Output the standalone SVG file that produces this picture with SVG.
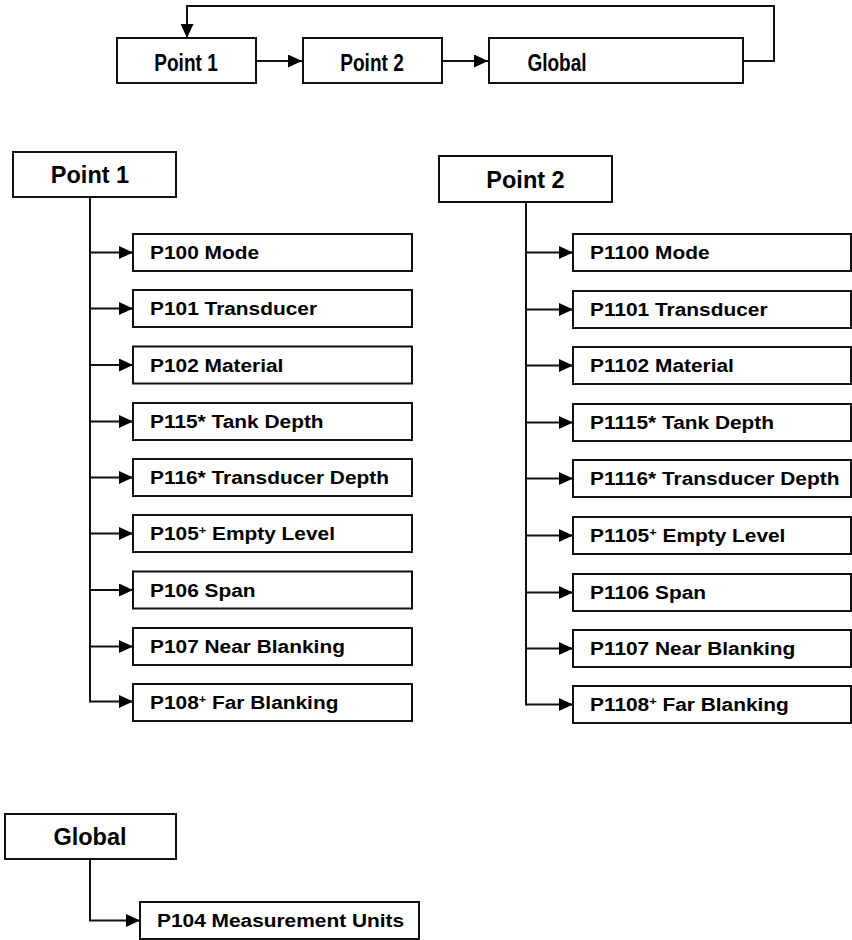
<svg xmlns="http://www.w3.org/2000/svg" width="852" height="940" viewBox="0 0 852 940">
<style>
.box{fill:#fff;stroke:#111;stroke-width:2}
.ln{fill:none;stroke:#111;stroke-width:2}
.hd{font-family:"Liberation Sans",Arial,sans-serif;font-weight:bold;font-size:23.5px;fill:#000;text-anchor:middle}
.ch{font-family:"Liberation Sans",Arial,sans-serif;font-weight:bold;font-size:18px;fill:#000}
.sp{font-size:11px}
</style>
<defs>
<marker id="ah" markerUnits="userSpaceOnUse" markerWidth="14" markerHeight="13" refX="14" refY="6.5" orient="auto">
<path d="M0,0 L14,6.5 L0,13 z" fill="#000"/>
</marker>
</defs>
<rect width="852" height="940" fill="#fff"/>

<g id="connectors">
<path class="ln" d="M256,61 H302" marker-end="url(#ah)"/>
<path class="ln" d="M442,61 H488" marker-end="url(#ah)"/>
<path class="ln" d="M743,61 H774 V6 H187 V38" marker-end="url(#ah)"/>
<path class="ln" d="M90,197 V702.5"/>
<path class="ln" d="M90,252.5 H133" marker-end="url(#ah)"/>
<path class="ln" d="M90,308.5 H133" marker-end="url(#ah)"/>
<path class="ln" d="M90,365 H133" marker-end="url(#ah)"/>
<path class="ln" d="M90,421.5 H133" marker-end="url(#ah)"/>
<path class="ln" d="M90,477.5 H133" marker-end="url(#ah)"/>
<path class="ln" d="M90,533.5 H133" marker-end="url(#ah)"/>
<path class="ln" d="M90,590 H133" marker-end="url(#ah)"/>
<path class="ln" d="M90,646.5 H133" marker-end="url(#ah)"/>
<path class="ln" d="M90,701.5 H133" marker-end="url(#ah)"/>
<path class="ln" d="M526,202 V705.5"/>
<path class="ln" d="M526,252.5 H573" marker-end="url(#ah)"/>
<path class="ln" d="M526,309.5 H573" marker-end="url(#ah)"/>
<path class="ln" d="M526,365.5 H573" marker-end="url(#ah)"/>
<path class="ln" d="M526,422.5 H573" marker-end="url(#ah)"/>
<path class="ln" d="M526,478.5 H573" marker-end="url(#ah)"/>
<path class="ln" d="M526,535.5 H573" marker-end="url(#ah)"/>
<path class="ln" d="M526,592.5 H573" marker-end="url(#ah)"/>
<path class="ln" d="M526,648.5 H573" marker-end="url(#ah)"/>
<path class="ln" d="M526,704.5 H573" marker-end="url(#ah)"/>
<path class="ln" d="M90,859 V920.5 H140" marker-end="url(#ah)"/>
</g>

<g id="top-point1"><rect class="box" x="117" y="38" width="139" height="45"/><text class="hd" transform="translate(186,70.5) scale(0.81,1)">Point 1</text></g>
<g id="top-point2"><rect class="box" x="303" y="38" width="139" height="45"/><text class="hd" transform="translate(372,70.5) scale(0.81,1)">Point 2</text></g>
<g id="top-global"><rect class="box" x="489" y="38" width="254" height="45"/><text class="hd" transform="translate(557,70.5) scale(0.81,1)">Global</text></g>

<g id="point1"><rect class="box" x="13" y="152" width="163" height="45"/><text class="hd" x="90" y="183">Point 1</text></g>
<g id="p100"><rect class="box" x="133" y="234" width="279" height="37"/><text class="ch" transform="translate(150,259) scale(1.16,1)">P100 Mode</text></g>
<g id="p101"><rect class="box" x="133" y="290" width="279" height="37"/><text class="ch" transform="translate(150,315) scale(1.16,1)">P101 Transducer</text></g>
<g id="p102"><rect class="box" x="133" y="346.5" width="279" height="37"/><text class="ch" transform="translate(150,371.5) scale(1.16,1)">P102 Material</text></g>
<g id="p115"><rect class="box" x="133" y="403" width="279" height="37"/><text class="ch" transform="translate(150,428) scale(1.16,1)">P115* Tank Depth</text></g>
<g id="p116"><rect class="box" x="133" y="459" width="279" height="37"/><text class="ch" transform="translate(150,484) scale(1.16,1)">P116* Transducer Depth</text></g>
<g id="p105"><rect class="box" x="133" y="515" width="279" height="37"/><text class="ch" transform="translate(150,540) scale(1.16,1)">P105<tspan class="sp" dy="-6">+</tspan><tspan dy="6"> Empty Level</tspan></text></g>
<g id="p106"><rect class="box" x="133" y="571.5" width="279" height="37"/><text class="ch" transform="translate(150,596.5) scale(1.16,1)">P106 Span</text></g>
<g id="p107"><rect class="box" x="133" y="628" width="279" height="37"/><text class="ch" transform="translate(150,653) scale(1.16,1)">P107 Near Blanking</text></g>
<g id="p108"><rect class="box" x="133" y="684" width="279" height="37"/><text class="ch" transform="translate(150,709) scale(1.16,1)">P108<tspan class="sp" dy="-6">+</tspan><tspan dy="6"> Far Blanking</tspan></text></g>

<g id="point2"><rect class="box" x="439" y="156" width="173" height="46"/><text class="hd" x="525.5" y="187.5">Point 2</text></g>
<g id="p1100"><rect class="box" x="573" y="234" width="278" height="37"/><text class="ch" transform="translate(590,259) scale(1.16,1)">P1100 Mode</text></g>
<g id="p1101"><rect class="box" x="573" y="291" width="278" height="37"/><text class="ch" transform="translate(590,316) scale(1.16,1)">P1101 Transducer</text></g>
<g id="p1102"><rect class="box" x="573" y="347" width="278" height="37"/><text class="ch" transform="translate(590,372) scale(1.16,1)">P1102 Material</text></g>
<g id="p1115"><rect class="box" x="573" y="404" width="278" height="37"/><text class="ch" transform="translate(590,429) scale(1.16,1)">P1115* Tank Depth</text></g>
<g id="p1116"><rect class="box" x="573" y="460" width="278" height="37"/><text class="ch" transform="translate(590,485) scale(1.16,1)">P1116* Transducer Depth</text></g>
<g id="p1105"><rect class="box" x="573" y="517" width="278" height="37"/><text class="ch" transform="translate(590,542) scale(1.16,1)">P1105<tspan class="sp" dy="-6">+</tspan><tspan dy="6"> Empty Level</tspan></text></g>
<g id="p1106"><rect class="box" x="573" y="574" width="278" height="37"/><text class="ch" transform="translate(590,599) scale(1.16,1)">P1106 Span</text></g>
<g id="p1107"><rect class="box" x="573" y="630" width="278" height="37"/><text class="ch" transform="translate(590,655) scale(1.16,1)">P1107 Near Blanking</text></g>
<g id="p1108"><rect class="box" x="573" y="686" width="278" height="37"/><text class="ch" transform="translate(590,711) scale(1.16,1)">P1108<tspan class="sp" dy="-6">+</tspan><tspan dy="6"> Far Blanking</tspan></text></g>

<g id="global"><rect class="box" x="5" y="814" width="171" height="45"/><text class="hd" x="90" y="845">Global</text></g>
<g id="p104"><rect class="box" x="140" y="902" width="279" height="37"/><text class="ch" transform="translate(157,927) scale(1.16,1)">P104 Measurement Units</text></g>
</svg>
